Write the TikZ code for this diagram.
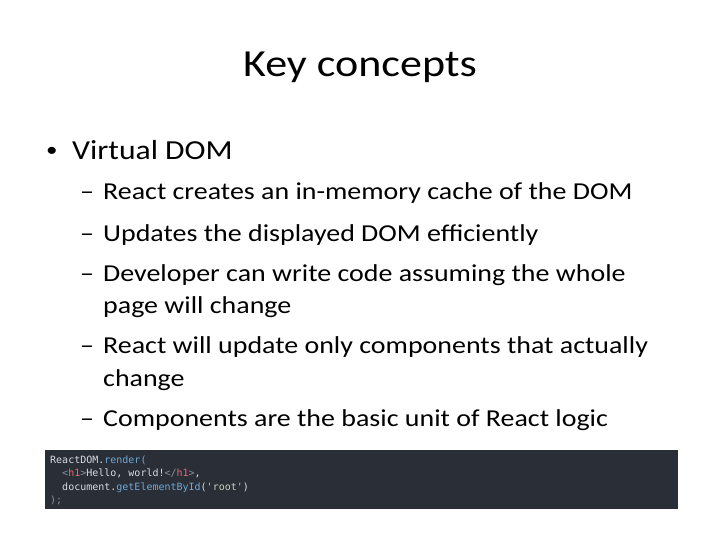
\documentclass[tikz,border=0pt]{standalone}
\usepackage{fontspec}
\setmainfont{Carlito}[FakeStretch=1.15]
\setmonofont{DejaVu Sans Mono}
\usetikzlibrary{positioning}
\definecolor{codebg}{HTML}{2A2E36}
\definecolor{codefg}{HTML}{D7DAE0}
\definecolor{codefn}{HTML}{6FA8D8}
\definecolor{codetag}{HTML}{E06C75}
\definecolor{codepunc}{HTML}{8A919C}
\definecolor{codestr}{HTML}{C8D0C0}

\begin{document}
\begin{tikzpicture}[x=1pt,y=-1pt,
		title/.style={anchor=base,inner sep=0pt,font=\fontsize{38.3}{40}\selectfont},
		lvlone/.style={anchor=base west,inner sep=0pt,font=\fontsize{27.5}{28}\selectfont},
		lvltwo/.style={anchor=base west,inner sep=0pt,font=\fontsize{24.3}{24}\selectfont},
		code/.style={anchor=base west,inner sep=0pt,text=codefg,font=\ttfamily\fontsize{10}{10}\selectfont}]
	
	\useasboundingbox[fill=white] (0,0) rectangle (720,540);
	
	\node[title] (title) at (360,77) {Key concepts};
	
	\node[lvlone,font=\fontsize{20}{20}\selectfont] (dot) at (46,157) {\textbullet};
	\node[lvlone] (vdom) at (72,160) {Virtual DOM};
	
	\foreach \y/\t [count=\i] in {200/React creates an in-memory cache of the DOM,
		241/Updates the displayed DOM efficiently,
		281/Developer can write code assuming the whole,
		353/React will update only components that actually,
		426/Components are the basic unit of React logic}{
		\node[lvltwo] (dash\i) at (80,\y) {--};
		\node[lvltwo] (item\i) at (103,\y) {\t};
	}
	\node[lvltwo] (wrap3) at (103,313) {page will change};
	\node[lvltwo] (wrap4) at (103,386) {change};
	
	% code sample
	\fill[codebg] (45,450) rectangle (678,509);
	\node[code] (line1) at (50,463) {ReactDOM.\textcolor{codefn}{render(}};
	\node[code] (line2) at (50,476) {\ \ \textcolor{codepunc}{<}\textcolor{codetag}{h1}\textcolor{codepunc}{>}Hello, world!\textcolor{codepunc}{</}\textcolor{codetag}{h1}\textcolor{codepunc}{>},};
	\node[code] (line3) at (50,490) {\ \ document.\textcolor{codefn}{getElementById}(\textcolor{codestr}{'root'})};
	\node[code] (line4) at (50,503) {\textcolor{codepunc}{);}};
	
\end{tikzpicture}
\end{document}
